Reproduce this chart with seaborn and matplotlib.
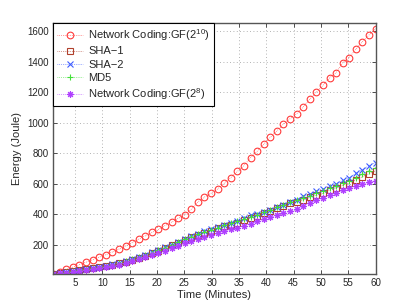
import numpy as np
import matplotlib
matplotlib.use("Agg")
import matplotlib.pyplot as plt
import seaborn as sns

# 50 samples between minute 1 and minute 60
minutes = np.linspace(1, 60, 50)

gf_2_10 = [10, 24, 38, 53, 69, 85, 101, 118, 134, 152,
           171, 191, 213, 236, 258, 280, 300, 325, 348, 372,
           395, 433, 480, 512, 537, 565, 603, 640, 680, 718,
           770, 812, 859, 903, 946, 990, 1025, 1058, 1102, 1153,
           1200, 1244, 1292, 1328, 1392, 1426, 1482, 1530, 1574, 1616]

sha1 = [8, 14, 20, 26, 32, 38, 45, 52, 60, 68,
        77, 88, 100, 113, 127, 143, 160, 176, 195, 213,
        232, 248, 264, 278, 292, 306, 320, 332, 345, 360,
        374, 390, 408, 420, 440, 452, 472, 482, 494, 510,
        524, 536, 556, 572, 590, 605, 625, 645, 665, 684]

sha2 = [9, 15, 21, 27, 34, 40, 47, 55, 63, 71,
        81, 92, 105, 118, 133, 149, 166, 183, 201, 220,
        240, 256, 272, 287, 301, 316, 330, 343, 357, 372,
        396, 400, 414, 428, 446, 462, 482, 496, 518, 530,
        550, 566, 584, 600, 622, 640, 668, 690, 718, 738]

md5 = [8, 14, 21, 27, 33, 39, 46, 54, 62, 70,
       79, 90, 103, 116, 131, 147, 164, 181, 199, 217,
       237, 253, 269, 284, 298, 312, 326, 339, 352, 366,
       382, 396, 412, 426, 446, 458, 478, 490, 506, 520,
       538, 552, 570, 586, 604, 620, 640, 660, 684, 705]

gf_2_8 = [6, 12, 17, 23, 29, 35, 41, 48, 55, 62,
          70, 80, 91, 103, 116, 130, 145, 160, 176, 192,
          208, 222, 236, 249, 262, 275, 288, 300, 312, 325,
          338, 352, 366, 380, 393, 406, 420, 436, 452, 472,
          490, 508, 525, 540, 557, 570, 584, 596, 608, 620]

x_ticks = [5, 10, 15, 20, 25, 30, 35, 40, 45, 50, 55, 60]
y_ticks = [200, 400, 600, 800, 1000, 1200, 1400, 1600]

sns.set_style("ticks")
plt.rcParams['font.family'] = ['Liberation Sans', 'DejaVu Sans']
plt.rcParams['mathtext.default'] = 'regular'

fig = plt.figure(figsize=(4.15, 3.08), dpi=100)
ax = fig.add_axes([0.128, 0.110, 0.777, 0.814])

series = [
    (gf_2_10, r'Network Coding:GF(2$^{10}$)', '#ff3b3b', 'o', 'none'),
    (sha1, 'SHA\u22121', '#b0402c', 's', 'none'),
    (sha2, 'SHA\u22122', '#3d5cff', 'x', None),
    (md5, 'MD5', '#44e03a', '+', None),
    (gf_2_8, r'Network Coding:GF(2$^{8}$)', '#b040ff', (8, 2, 0), None),
]

for vals, label, color, marker, mfc in series:
    kw = dict(marker=marker, markersize=4.8, markeredgewidth=0.8,
              markeredgecolor=color, linestyle=':', linewidth=0.5)
    kw['markerfacecolor'] = mfc if mfc is not None else color
    sns.lineplot(x=minutes, y=vals, ax=ax, color=color, label=label, **kw)

ax.set_xlim(1, 60)
ax.set_ylim(7, 1650)
ax.set_xticks(x_ticks)
ax.set_yticks(y_ticks)
ax.tick_params(direction='in', top=True, right=True, length=3, width=0.6,
               labelsize=7, pad=3, color='#333333')
ax.grid(True, linestyle=(0, (1, 3)), linewidth=0.6, color='#9a9a9a')
for s in ax.spines.values():
    s.set_color('#555555')
    s.set_linewidth(1.0)

ax.set_xlabel('Time (Minutes)', fontsize=8, labelpad=1)
ax.set_ylabel('Energy (Joule)', fontsize=8, labelpad=4)

leg = ax.legend(loc='upper left', bbox_to_anchor=(0, 1), borderaxespad=0,
                fancybox=False, edgecolor='black', framealpha=1, fontsize=8,
                handlelength=2.3, handletextpad=0.5, labelspacing=0.3,
                borderpad=0.35)
leg.get_frame().set_linewidth(0.8)

fig.savefig('out.png', dpi=100)
